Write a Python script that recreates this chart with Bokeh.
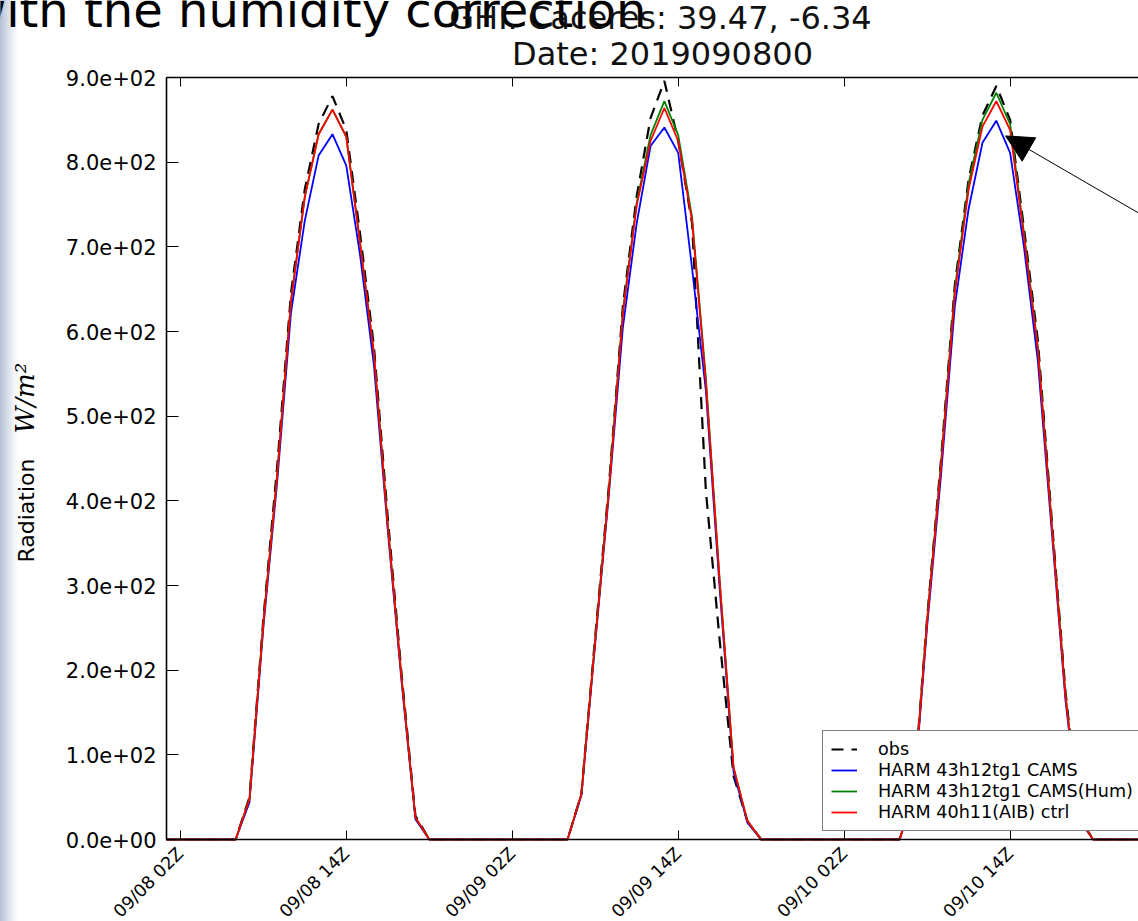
import math
from bokeh.plotting import figure
from bokeh.models import (ColumnDataSource, FixedTicker, LinearAxis, Label, Arrow,
                          NormalHead, Range1d)
from bokeh.embed import file_html
from bokeh.resources import INLINE

# ---------------- data (hours counted from 09/08 00Z) ----------------
hours = list(range(1, 73))

obs = [0, 0, 0, 0, 0,
       0, 50, 260, 440, 645, 768, 845, 878, 838, 715, 582, 380, 195, 28, 0,
       0, 0, 0, 0, 0, 0, 0, 0, 0,
       0, 54, 240, 420, 630, 760, 852, 896, 825, 728, 412, 235, 75, 22, 0,
       0, 0, 0, 0, 0, 0, 0, 0, 0,
       0, 52, 262, 448, 655, 780, 855, 890, 850, 722, 590, 380, 175, 26, 0,
       0, 0, 0, 0]

cams = [0, 0, 0, 0, 0,
        0, 44, 250, 422, 622, 731, 808, 833, 796, 690, 560, 365, 186, 24, 0,
        0, 0, 0, 0, 0, 0, 0, 0, 0,
        0, 52, 232, 410, 605, 728, 819, 841, 811, 675, 530, 296, 80, 20, 0,
        0, 0, 0, 0, 0, 0, 0, 0, 0,
        0, 46, 252, 430, 630, 745, 823, 849, 811, 700, 566, 366, 165, 23, 0,
        0, 0, 0, 0]

cams_hum = [0, 0, 0, 0, 0,
            0, 48, 255, 430, 636, 759, 833, 862, 830, 704, 574, 371, 190, 26, 0,
            0, 0, 0, 0, 0, 0, 0, 0, 0,
            0, 54, 236, 416, 624, 752, 832, 872, 832, 735, 545, 305, 85, 22, 0,
            0, 0, 0, 0, 0, 0, 0, 0, 0,
            0, 50, 260, 443, 650, 775, 850, 882, 845, 716, 582, 375, 171, 25, 0,
            0, 0, 0, 0]

ctrl = [0, 0, 0, 0, 0,
        0, 48, 255, 430, 636, 759, 833, 862, 830, 704, 574, 371, 190, 26, 0,
        0, 0, 0, 0, 0, 0, 0, 0, 0,
        0, 54, 235, 414, 621, 749, 825, 864, 825, 731, 540, 305, 85, 22, 0,
        0, 0, 0, 0, 0, 0, 0, 0, 0,
        0, 50, 258, 440, 645, 768, 842, 872, 838, 712, 580, 374, 170, 25, 0,
        0, 0, 0, 0]

series_names = ["obs", "HARM 43h12tg1 CAMS", "HARM 43h12tg1 CAMS(Hum)", "HARM 40h11(AIB) ctrl"]

x_tick_hours = [2, 14, 26, 38, 50, 62]
x_tick_labels = ["09/08 02Z", "09/08 14Z", "09/09 02Z", "09/09 14Z", "09/10 02Z", "09/10 14Z"]

y_ticks = [0, 100, 200, 300, 400, 500, 600, 700, 800, 900]
y_tick_labels = ["0.0e+00", "1.0e+02", "2.0e+02", "3.0e+02", "4.0e+02",
                 "5.0e+02", "6.0e+02", "7.0e+02", "8.0e+02", "9.0e+02"]

slide_title = "with the humidity correction"
chart_title = ["GHI. Caceres: 39.47, -6.34", "Date: 2019090800"]
y_label_text = "Radiation"
y_label_unit = "W/m\u00b2"

# ---------------- layout ----------------
W, H = 1138, 921
AX_L, AX_T, AX_B = 166, 77, 839      # axes box (left / top / bottom) in page pixels
X_START, Y_MIN, Y_MAX = 1.0, 0.0, 900.0
px_per_h = 13.83
px_per_unit = (AX_B - AX_T) / (Y_MAX - Y_MIN)
x0 = X_START - AX_L / px_per_h
x1 = X_START + (W - AX_L) / px_per_h
y0 = Y_MIN - (H - AX_B) / px_per_unit
y1 = Y_MIN + AX_B / px_per_unit
FONT = "DejaVu Sans"

# the plotting frame spans the whole canvas so that every text label stays visible;
# the axes are drawn at fixed data locations with bounds, like matplotlib spines
p = figure(width=W, height=H, output_backend="svg", toolbar_location=None,
           x_range=Range1d(x0, x1), y_range=Range1d(y0, y1), min_border=0,
           x_axis_location=None, y_axis_location=None, title_location=None)
p.grid.visible = False
p.outline_line_color = None
p.background_fill_color = None
p.border_fill_color = None
p.styles = {"background": "linear-gradient(90deg, #b4c0d2 0px, #d3dbe6 7px, #eef1f5 13px, #ffffff 19px)"}

def style_axis(ax, tick_len, font_size, standoff):
    ax.major_tick_in = tick_len
    ax.major_tick_out = 0
    ax.minor_tick_in = 0
    ax.minor_tick_out = 0
    ax.axis_line_width = 1.6
    ax.axis_line_color = "black"
    ax.major_tick_line_color = "black"
    ax.major_tick_line_width = 1
    ax.major_label_text_font = FONT
    ax.major_label_text_font_size = font_size
    ax.major_label_text_color = "black"
    ax.major_label_standoff = standoff

xax = LinearAxis(ticker=FixedTicker(ticks=x_tick_hours), fixed_location=Y_MIN,
                 bounds=(X_START, x1),
                 major_label_overrides={h: l for h, l in zip(x_tick_hours, x_tick_labels)},
                 major_label_orientation=math.pi / 4)
style_axis(xax, 9, "17.5px", 11)
p.add_layout(xax, "below")

top = LinearAxis(ticker=FixedTicker(ticks=x_tick_hours), fixed_location=Y_MAX,
                 bounds=(X_START, x1))
style_axis(top, 9, "0px", 0)
top.major_label_text_alpha = 0
p.add_layout(top, "above")

yax = LinearAxis(ticker=FixedTicker(ticks=y_ticks), fixed_location=X_START,
                 bounds=(Y_MIN, Y_MAX),
                 major_label_overrides={v: l for v, l in zip(y_ticks, y_tick_labels)})
style_axis(yax, 12, "21px", 10)
p.add_layout(yax, "left")

# ---------------- series ----------------
src = ColumnDataSource(dict(t=hours, obs=obs, cams=cams, hum=cams_hum, ctrl=ctrl))
p.line("t", "obs", source=src, line_color="black", line_width=2.2, line_dash="12 8",
       legend_label=series_names[0])
p.line("t", "cams", source=src, line_color="#0000ff", line_width=1.8, legend_label=series_names[1])
p.line("t", "hum", source=src, line_color="#008000", line_width=1.8, legend_label=series_names[2])
p.line("t", "ctrl", source=src, line_color="#ff0000", line_width=1.8, legend_label=series_names[3])

lg = p.legend[0]
lg.location = (822, H - 831)
lg.label_text_font = FONT
lg.label_text_font_size = "17.6px"
lg.label_text_color = "black"
lg.border_line_color = "black"
lg.border_line_width = 1
lg.background_fill_color = "white"
lg.background_fill_alpha = 1
lg.padding = 8
lg.spacing = 1
lg.margin = 0
lg.glyph_width = 26
lg.glyph_height = 18
lg.label_height = 18
lg.label_standoff = 21

# ---------------- arrow annotation pointing at the day-3 CAMS peak ----------------
peak_i = max(range(48, 72), key=lambda i: cams[i])
p.add_layout(Arrow(end=NormalHead(size=27, fill_color="black", line_color="black"),
                   x_start=x1, y_start=cams[peak_i] - 109,
                   x_end=hours[peak_i] + 0.67, y_end=cams[peak_i] - 18,
                   line_color="black", line_width=1))

# ---------------- texts (page pixel positions of the baseline; frame = whole canvas) ----------------
BASE_SHIFT = 0.38   # Bokeh places the alphabetic baseline about this many ems lower

def page_label(text, px, py, size, angle=0.0, **kw):
    off = BASE_SHIFT * size
    if angle:
        px -= off
    else:
        py -= off
    return Label(x=px, y=H - py, x_units="screen", y_units="screen", text=text, angle=angle,
                 text_font_size=f"{size}px", text_baseline="alphabetic", **kw)

p.add_layout(page_label(slide_title, 646, 28, 48, text_align="right",
                        text_font=FONT, text_color="black"))
p.add_layout(page_label(chart_title[0], 660, 30, 32, text_align="center",
                        text_font=FONT, text_color="#111111"))
p.add_layout(page_label(chart_title[1], 662, 66, 32, text_align="center",
                        text_font=FONT, text_color="#111111"))
p.add_layout(page_label(y_label_text, 34, 562, 22, angle=math.pi / 2, text_align="left",
                        text_font=FONT, text_color="black"))
p.add_layout(page_label(y_label_unit, 34, 433, 26, angle=math.pi / 2, text_align="left",
                        text_font="DejaVu Serif", text_font_style="italic", text_color="black"))

open("out.html", "w").write(file_html(p, INLINE))
